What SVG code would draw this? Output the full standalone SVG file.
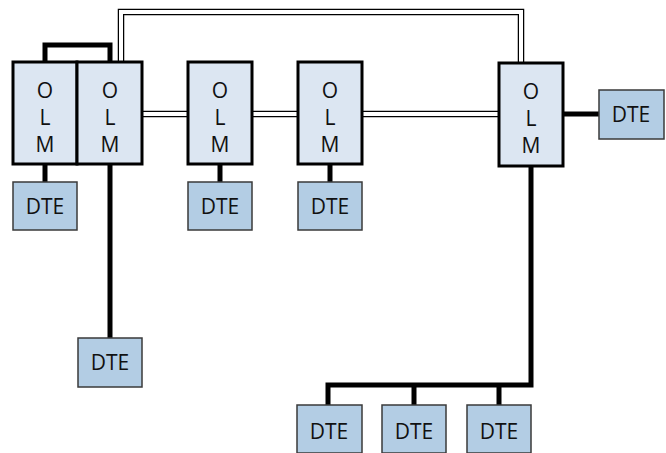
<svg xmlns="http://www.w3.org/2000/svg" width="666" height="453" viewBox="0 0 666 453">
<style>
.olm{fill:#dce6f2;stroke:#000;stroke-width:3}
.dte{fill:#b3cde4;stroke:#3a3a3a;stroke-width:1.5}
.t{font-family:"Open Sans","Noto Sans",sans-serif;font-size:21px;fill:#111;text-anchor:middle}
.bus{fill:none;stroke:#000;stroke-width:5}
.dbo{fill:none;stroke:#000;stroke-width:6.5}
.dbi{fill:none;stroke:#fff;stroke-width:4}
</style>
<rect width="666" height="453" fill="#fff"/>
<g id="connectors">
<path class="bus" d="M45,62 V45 H110 V62"/>
<path class="bus" d="M45,164 V182"/>
<path class="bus" d="M110,164 V338"/>
<path class="bus" d="M220,164 V182"/>
<path class="bus" d="M330,164 V182"/>
<path class="bus" d="M563,114 H599"/>
<path class="bus" d="M531,166 V385 H328 V405 M414,385 V405 M499,385 V405"/>
<path class="dbo" d="M121,62 V12 H521 V63"/>
<path class="dbi" d="M121,62 V12 H521 V63"/>
<path class="dbo" d="M142,114 H188 M252,114 H298 M362,114 H499"/>
<path class="dbi" d="M142,114 H188 M252,114 H298 M362,114 H499"/>
</g>
<g id="olm1"><rect class="olm" x="13" y="62" width="64" height="102"/><text class="t" x="45" y="98">O</text><text class="t" x="45" y="125">L</text><text class="t" x="45" y="152">M</text></g>
<g id="olm2"><rect class="olm" x="77" y="62" width="65" height="102"/><text class="t" x="110" y="98">O</text><text class="t" x="110" y="125">L</text><text class="t" x="110" y="152">M</text></g>
<g id="olm3"><rect class="olm" x="188" y="62" width="64" height="102"/><text class="t" x="220" y="98">O</text><text class="t" x="220" y="125">L</text><text class="t" x="220" y="152">M</text></g>
<g id="olm4"><rect class="olm" x="298" y="62" width="64" height="102"/><text class="t" x="330" y="98">O</text><text class="t" x="330" y="125">L</text><text class="t" x="330" y="152">M</text></g>
<g id="olm5"><rect class="olm" x="499" y="63" width="64" height="103"/><text class="t" x="531" y="99">O</text><text class="t" x="531" y="126">L</text><text class="t" x="531" y="153">M</text></g>
<g id="dte1"><rect class="dte" x="13" y="182" width="64" height="48"/><text class="t" x="45" y="214">DTE</text></g>
<g id="dte2"><rect class="dte" x="78" y="338" width="64" height="49"/><text class="t" x="110" y="370">DTE</text></g>
<g id="dte3"><rect class="dte" x="188" y="182" width="64" height="48"/><text class="t" x="220" y="214">DTE</text></g>
<g id="dte4"><rect class="dte" x="298" y="182" width="64" height="48"/><text class="t" x="330" y="214">DTE</text></g>
<g id="dte5"><rect class="dte" x="599" y="90" width="65" height="49"/><text class="t" x="631" y="122">DTE</text></g>
<g id="dte6"><rect class="dte" x="297" y="405" width="65" height="48"/><text class="t" x="329" y="439">DTE</text></g>
<g id="dte7"><rect class="dte" x="382" y="405" width="64" height="48"/><text class="t" x="414" y="439">DTE</text></g>
<g id="dte8"><rect class="dte" x="467" y="405" width="64" height="48"/><text class="t" x="499" y="439">DTE</text></g>
</svg>
